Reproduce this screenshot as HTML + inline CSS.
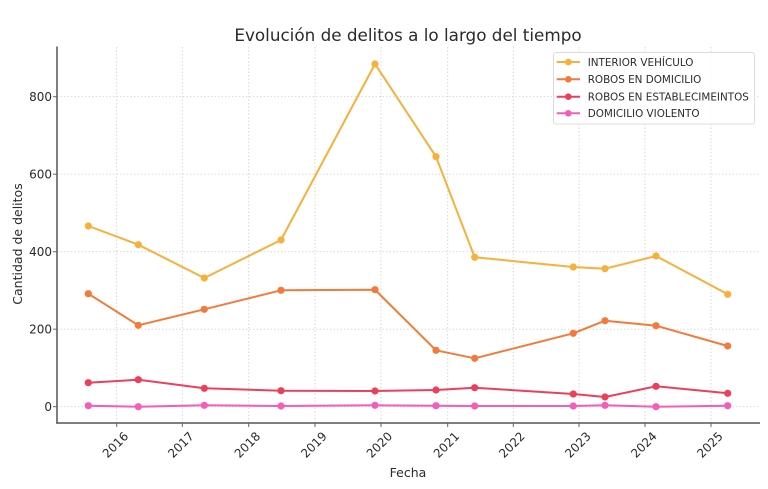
<!DOCTYPE html>
<html>
<head>
<meta charset="utf-8">
<style>
html,body{margin:0;padding:0;background:#fff;}
svg{display:block;}
text{font-family:"DejaVu Sans","Liberation Sans",sans-serif;fill:#2b2b2b;}
</style>
</head>
<body>
<svg width="768" height="489" viewBox="0 0 768 489" xmlns="http://www.w3.org/2000/svg">
<rect width="768" height="489" fill="#fff"/>
<!-- grid -->
<g stroke="#d4d4d4" stroke-width="0.9" stroke-dasharray="1.5,2">
  <line x1="116.7" y1="47" x2="116.7" y2="423"/>
  <line x1="182.3" y1="47" x2="182.3" y2="423"/>
  <line x1="248.7" y1="47" x2="248.7" y2="423"/>
  <line x1="315" y1="47" x2="315" y2="423"/>
  <line x1="381" y1="47" x2="381" y2="423"/>
  <line x1="447.7" y1="47" x2="447.7" y2="423"/>
  <line x1="513.3" y1="47" x2="513.3" y2="423"/>
  <line x1="579" y1="47" x2="579" y2="423"/>
  <line x1="645" y1="47" x2="645" y2="423"/>
  <line x1="711" y1="47" x2="711" y2="423"/>
  <line x1="57" y1="406.7" x2="760" y2="406.7"/>
  <line x1="57" y1="329.2" x2="760" y2="329.2"/>
  <line x1="57" y1="251.7" x2="760" y2="251.7"/>
  <line x1="57" y1="174.2" x2="760" y2="174.2"/>
  <line x1="57" y1="96.7" x2="760" y2="96.7"/>
</g>
<!-- spines -->
<g stroke="#555" stroke-width="1.5">
  <line x1="57" y1="46.5" x2="57" y2="423.7"/>
  <line x1="56.3" y1="423" x2="760" y2="423"/>
</g>
<!-- ticks -->
<g stroke="#666" stroke-width="1">
  <line x1="53" y1="406.7" x2="57" y2="406.7"/>
  <line x1="53" y1="329.2" x2="57" y2="329.2"/>
  <line x1="53" y1="251.7" x2="57" y2="251.7"/>
  <line x1="53" y1="174.2" x2="57" y2="174.2"/>
  <line x1="53" y1="96.7" x2="57" y2="96.7"/>
  <line x1="116.7" y1="423" x2="116.7" y2="427"/>
  <line x1="182.3" y1="423" x2="182.3" y2="427"/>
  <line x1="248.7" y1="423" x2="248.7" y2="427"/>
  <line x1="315" y1="423" x2="315" y2="427"/>
  <line x1="381" y1="423" x2="381" y2="427"/>
  <line x1="447.7" y1="423" x2="447.7" y2="427"/>
  <line x1="513.3" y1="423" x2="513.3" y2="427"/>
  <line x1="579" y1="423" x2="579" y2="427"/>
  <line x1="645" y1="423" x2="645" y2="427"/>
  <line x1="711" y1="423" x2="711" y2="427"/>
</g>
<!-- y tick labels -->
<g font-size="12" text-anchor="end">
  <text x="52" y="411">0</text>
  <text x="52" y="333.5">200</text>
  <text x="52" y="256">400</text>
  <text x="52" y="178.5">600</text>
  <text x="52" y="101">800</text>
</g>
<!-- x tick labels -->
<g font-size="12" text-anchor="middle" dominant-baseline="central">
  <text transform="translate(115.5,445) rotate(-45)">2016</text>
  <text transform="translate(181,445) rotate(-45)">2017</text>
  <text transform="translate(247.5,445) rotate(-45)">2018</text>
  <text transform="translate(314,445) rotate(-45)">2019</text>
  <text transform="translate(379.5,445) rotate(-45)">2020</text>
  <text transform="translate(446.5,445) rotate(-45)">2021</text>
  <text transform="translate(512,445) rotate(-45)">2022</text>
  <text transform="translate(578,445) rotate(-45)">2023</text>
  <text transform="translate(644,445) rotate(-45)">2024</text>
  <text transform="translate(710,445) rotate(-45)">2025</text>
</g>
<!-- axis labels -->
<text x="408" y="477" font-size="12.5" text-anchor="middle">Fecha</text>
<text transform="translate(22,244) rotate(-90)" font-size="12.5" text-anchor="middle">Cantidad de delitos</text>
<!-- title -->
<text x="408" y="41" font-size="16.8" text-anchor="middle">Evolución de delitos a lo largo del tiempo</text>

<!-- series -->
<g fill="none" stroke-width="2" stroke-linejoin="round">
  <polyline stroke="#F7B03A" points="88.3,226 138.3,244.7 204.3,278 281,240 375,64 436,156.7 474.7,257.3 573.3,267 605,268.7 656,256 727.7,294.3"/>
  <polyline stroke="#F4793A" points="88.3,293.7 138.3,325.3 204.3,309.3 281,290.3 375,289.7 436,350.3 474.7,358.3 573.3,333.3 605,320.7 656,325.7 727.7,346"/>
  <polyline stroke="#EC3F5C" points="88.3,382.7 138.3,379.7 204.3,388.3 281,390.7 375,391 436,390 474.7,387.7 573.3,394 605,397 656,386.3 727.7,393.3"/>
  <polyline stroke="#F45DB8" points="88.3,405.7 138.3,406.7 204.3,405.3 281,406 375,405.3 436,405.7 474.7,406 573.3,406 605,405.3 656,406.7 727.7,405.7"/>
</g>
<g fill="#F7B03A">
  <circle cx="88.3" cy="226" r="3.6"/><circle cx="138.3" cy="244.7" r="3.6"/><circle cx="204.3" cy="278" r="3.6"/><circle cx="281" cy="240" r="3.6"/><circle cx="375" cy="64" r="3.6"/><circle cx="436" cy="156.7" r="3.6"/><circle cx="474.7" cy="257.3" r="3.6"/><circle cx="573.3" cy="267" r="3.6"/><circle cx="605" cy="268.7" r="3.6"/><circle cx="656" cy="256" r="3.6"/><circle cx="727.7" cy="294.3" r="3.6"/>
</g>
<g fill="#F4793A">
  <circle cx="88.3" cy="293.7" r="3.6"/><circle cx="138.3" cy="325.3" r="3.6"/><circle cx="204.3" cy="309.3" r="3.6"/><circle cx="281" cy="290.3" r="3.6"/><circle cx="375" cy="289.7" r="3.6"/><circle cx="436" cy="350.3" r="3.6"/><circle cx="474.7" cy="358.3" r="3.6"/><circle cx="573.3" cy="333.3" r="3.6"/><circle cx="605" cy="320.7" r="3.6"/><circle cx="656" cy="325.7" r="3.6"/><circle cx="727.7" cy="346" r="3.6"/>
</g>
<g fill="#EC3F5C">
  <circle cx="88.3" cy="382.7" r="3.6"/><circle cx="138.3" cy="379.7" r="3.6"/><circle cx="204.3" cy="388.3" r="3.6"/><circle cx="281" cy="390.7" r="3.6"/><circle cx="375" cy="391" r="3.6"/><circle cx="436" cy="390" r="3.6"/><circle cx="474.7" cy="387.7" r="3.6"/><circle cx="573.3" cy="394" r="3.6"/><circle cx="605" cy="397" r="3.6"/><circle cx="656" cy="386.3" r="3.6"/><circle cx="727.7" cy="393.3" r="3.6"/>
</g>
<g fill="#F45DB8">
  <circle cx="88.3" cy="405.7" r="3.6"/><circle cx="138.3" cy="406.7" r="3.6"/><circle cx="204.3" cy="405.3" r="3.6"/><circle cx="281" cy="406" r="3.6"/><circle cx="375" cy="405.3" r="3.6"/><circle cx="436" cy="405.7" r="3.6"/><circle cx="474.7" cy="406" r="3.6"/><circle cx="573.3" cy="406" r="3.6"/><circle cx="605" cy="405.3" r="3.6"/><circle cx="656" cy="406.7" r="3.6"/><circle cx="727.7" cy="405.7" r="3.6"/>
</g>

<!-- legend -->
<rect x="553.5" y="52.5" width="201" height="71.5" rx="2.5" fill="#fff" fill-opacity="0.85" stroke="#dcdcdc" stroke-width="1"/>
<g stroke-width="2">
  <line x1="556.7" y1="62" x2="580" y2="62" stroke="#F7B03A"/>
  <line x1="556.7" y1="79.3" x2="580" y2="79.3" stroke="#F4793A"/>
  <line x1="556.7" y1="96.7" x2="580" y2="96.7" stroke="#EC3F5C"/>
  <line x1="556.7" y1="113.3" x2="580" y2="113.3" stroke="#F45DB8"/>
</g>
<circle cx="568.3" cy="62" r="3.3" fill="#F7B03A"/>
<circle cx="568.3" cy="79.3" r="3.3" fill="#F4793A"/>
<circle cx="568.3" cy="96.7" r="3.3" fill="#EC3F5C"/>
<circle cx="568.3" cy="113.3" r="3.3" fill="#F45DB8"/>
<g font-size="10.4">
  <text x="587.7" y="65.8">INTERIOR VEHÍCULO</text>
  <text x="587.7" y="83.1">ROBOS EN DOMICILIO</text>
  <text x="587.7" y="100.5">ROBOS EN ESTABLECIMEINTOS</text>
  <text x="587.7" y="117.1">DOMICILIO VIOLENTO</text>
</g>
</svg>
</body>
</html>
